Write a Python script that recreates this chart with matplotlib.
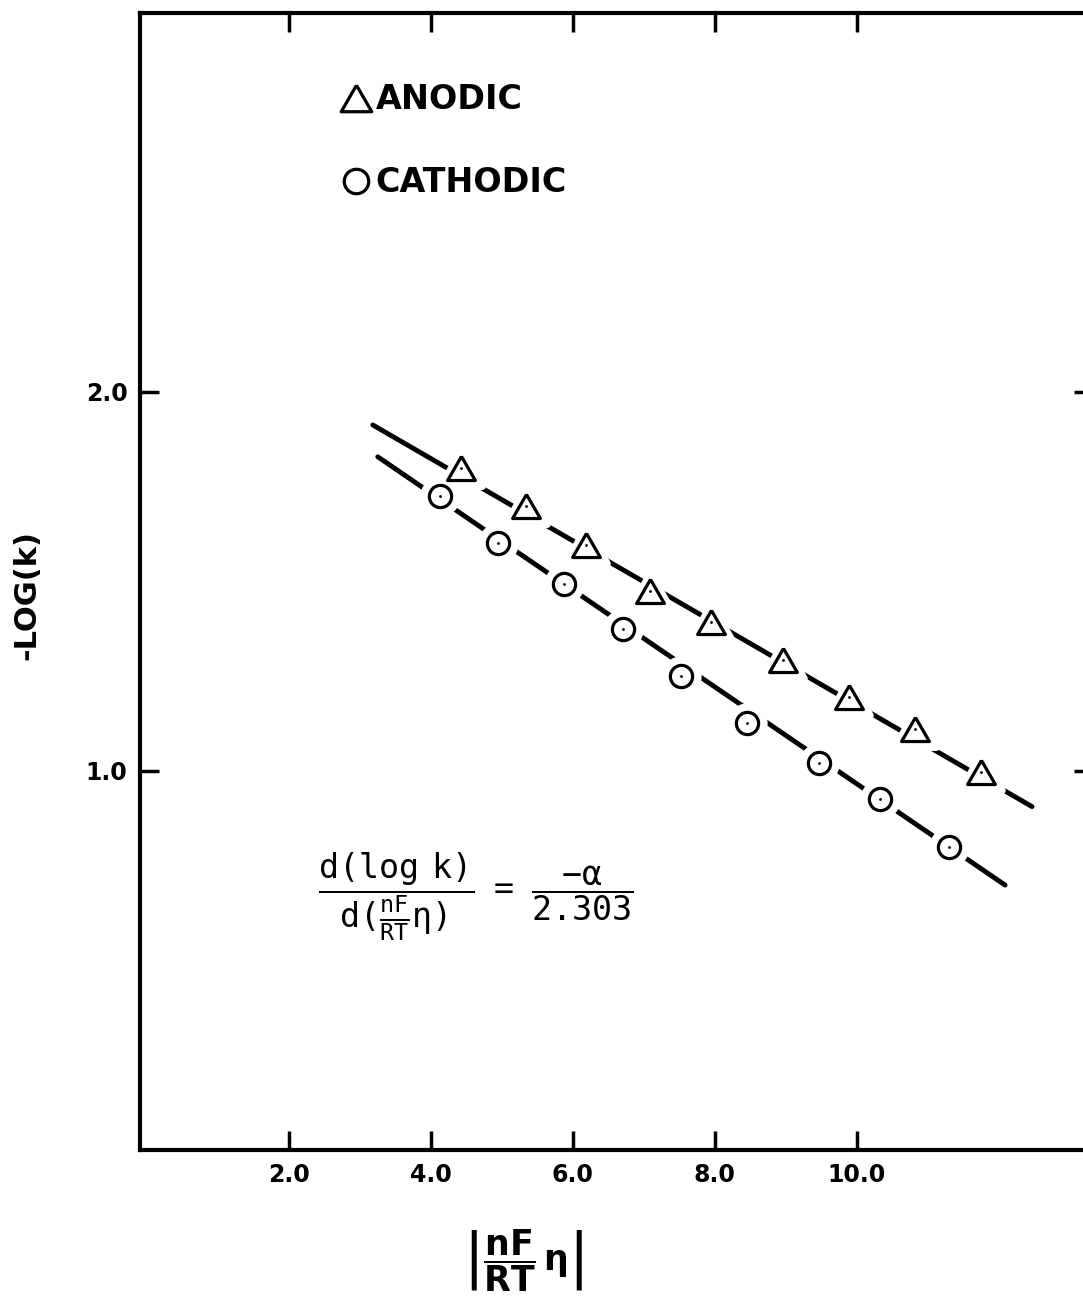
"""
-log(k) versus |nF/RT eta| for anodic and cathodic runs
"""

import matplotlib
matplotlib.use('Agg')
import matplotlib.pyplot as plt
import numpy as np

# Data
anodic_x = [4.42, 5.34, 6.19, 7.09, 7.95, 8.96, 9.89, 10.82, 11.75]
anodic_y = [1.799, 1.699, 1.596, 1.475, 1.393, 1.293, 1.195, 1.111, 0.997]
cathodic_x = [4.13, 4.95, 5.88, 6.70, 7.53, 8.46, 9.47, 10.33, 11.30]
cathodic_y = [1.726, 1.602, 1.493, 1.374, 1.251, 1.126, 1.020, 0.925, 0.799]

# Fitted straight lines (end points)
anodic_fit_x = [3.18, 12.47]
anodic_fit_y = [1.913, 0.906]
cathodic_fit_x = [3.25, 12.09]
cathodic_fit_y = [1.829, 0.699]

x_ticks = [2.0, 4.0, 6.0, 8.0, 10.0]
y_ticks = [1.0, 2.0]

plt.rcParams['mathtext.fontset'] = 'custom'
plt.rcParams['mathtext.rm'] = 'DejaVu Sans Mono'
plt.rcParams['mathtext.it'] = 'DejaVu Sans Mono'
plt.rcParams['mathtext.bf'] = 'DejaVu Sans Mono:bold'

# Equilateral triangle marker
tri = [(0, 0.433), (-0.5, -0.433), (0.5, -0.433), (0, 0.433)]

fig = plt.figure(figsize=(10.83, 13.11), dpi=100)
ax = fig.add_axes([0.1293, 0.1228, 0.8800, 0.8673])

# Fit lines
ax.plot(anodic_fit_x, anodic_fit_y, color='black', linewidth=3.5, solid_capstyle='round')
ax.plot(cathodic_fit_x, cathodic_fit_y, color='black', linewidth=3.5, solid_capstyle='round')

# White halo so the line breaks around each symbol
ax.plot(anodic_x, anodic_y, linestyle='none', marker=tri, markersize=30,
        markerfacecolor='white', markeredgecolor='white', markeredgewidth=5)
ax.plot(cathodic_x, cathodic_y, linestyle='none', marker='o', markersize=26,
        markerfacecolor='white', markeredgecolor='white', markeredgewidth=3)

# Symbols
h_an, = ax.plot(anodic_x, anodic_y, linestyle='none', marker=tri, markersize=20,
                markerfacecolor='white', markeredgecolor='black', markeredgewidth=2.3)
h_ca, = ax.plot(cathodic_x, cathodic_y, linestyle='none', marker='o', markersize=16,
                markerfacecolor='white', markeredgecolor='black', markeredgewidth=2.3)
ax.plot(anodic_x, anodic_y, linestyle='none', marker='.', markersize=2, color='black')
ax.plot(cathodic_x, cathodic_y, linestyle='none', marker='.', markersize=2, color='black')

# Axes formatting
ax.set_xlim(-0.10, 13.33)
ax.set_ylim(0, 3.0)
ax.set_xticks(x_ticks)
ax.set_yticks(y_ticks)
ax.set_xticklabels([f'{t:.1f}' for t in x_ticks])
ax.set_yticklabels([f'{t:.1f}' for t in y_ticks])
ax.tick_params(direction='in', length=14, width=2.5, top=True, right=True,
               labelsize=17, pad=9)
for lab in ax.get_xticklabels() + ax.get_yticklabels():
    lab.set_fontweight('bold')
for sp in ax.spines.values():
    sp.set_linewidth(3)

ax.set_ylabel('-LOG(k)', fontsize=22, fontweight='bold')
ax.yaxis.set_label_coords(-0.103, 0.488)
ax.set_xlabel(r'$\left|\dfrac{\mathbf{nF}}{\mathbf{RT}}\,\mathbf{\eta}\right|$',
              fontsize=25, math_fontfamily='dejavusans')
ax.xaxis.set_label_coords(0.402, -0.068)

# Slope relation
ax.text(0.1868, 0.2225,
        r'$\dfrac{\mathrm{d(log\ \ k)}}{\mathrm{d}(\frac{\mathrm{nF}}{\mathrm{RT}}\eta)}\ \ =\ \ \dfrac{-\alpha}{2.303}$',
        transform=ax.transAxes, fontsize=24, ha='left', va='center',
        math_fontfamily='custom')

ax.legend([h_an, h_ca], ['ANODIC', 'CATHODIC'], loc='upper left',
          bbox_to_anchor=(0.2088, 0.938), frameon=False,
          prop={'weight': 'bold', 'size': 24}, handlelength=1.0,
          handletextpad=0.1, labelspacing=1.5, borderpad=0, borderaxespad=0,
          markerscale=1.1)

plt.savefig('out.png', dpi=100)
plt.close()
